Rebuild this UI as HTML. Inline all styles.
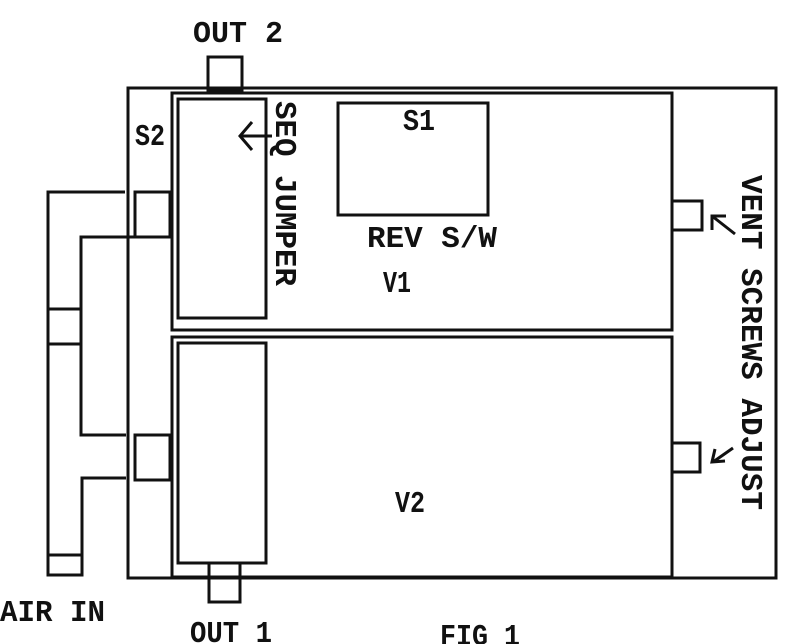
<!DOCTYPE html>
<html><head><style>html,body{margin:0;padding:0;background:#fff}svg{display:block}</style></head>
<body>
<svg width="800" height="644" viewBox="0 0 800 644" xmlns="http://www.w3.org/2000/svg">
<g fill="none" stroke="#111" stroke-width="3">
<rect x="128" y="88" width="648" height="490"/>
<rect x="172" y="93" width="500" height="237"/>
<rect x="172" y="337" width="500" height="240"/>
<rect x="178" y="99" width="88" height="219"/>
<rect x="178" y="343" width="88" height="220"/>
<rect x="338" y="103" width="150" height="112"/>
<rect x="208" y="57" width="34" height="33"/>
<rect x="209" y="563" width="31" height="39"/>
<rect x="672" y="201" width="30" height="29"/>
<rect x="672" y="443" width="28" height="29"/>
<rect x="135" y="192" width="35" height="45"/>
<rect x="135" y="435" width="35" height="45"/>
<path d="M125 192 H48 V575 H82 V478 H126"/>
<path d="M48 555 H82"/>
<path d="M48 309 H81 M48 344 H81"/>
<path d="M170 237 H81 V435 H126"/>
<path d="M272 136 H240 M252 122 L240 136 L252 150"/>
<path d="M735 234 L712 216 M712 230 V216 H726"/>
<path d="M733 448 L713 462 M715 449 L712 462 L725 461"/>
</g>
<g font-family="Liberation Mono, monospace" font-weight="bold" font-size="31" fill="#111">
<text x="193" y="42" textLength="90" lengthAdjust="spacingAndGlyphs">OUT 2</text>
<text x="135" y="145" textLength="30" lengthAdjust="spacingAndGlyphs">S2</text>
<text x="403" y="130" textLength="32" lengthAdjust="spacingAndGlyphs">S1</text>
<text x="367" y="247" textLength="130" lengthAdjust="spacingAndGlyphs">REV S/W</text>
<text x="383" y="292" textLength="28" lengthAdjust="spacingAndGlyphs">V1</text>
<text x="395" y="512" textLength="30" lengthAdjust="spacingAndGlyphs">V2</text>
<text x="0" y="621" textLength="105" lengthAdjust="spacingAndGlyphs">AIR IN</text>
<text x="190" y="642" textLength="82" lengthAdjust="spacingAndGlyphs">OUT 1</text>
<text x="440" y="645" textLength="80" lengthAdjust="spacingAndGlyphs">FIG 1</text>
<text transform="translate(276,101) rotate(90)" textLength="185" lengthAdjust="spacingAndGlyphs">SEQ JUMPER</text>
<text transform="translate(742,175) rotate(90)" textLength="335" lengthAdjust="spacingAndGlyphs">VENT SCREWS ADJUST</text>
</g>
</svg>
</body></html>
